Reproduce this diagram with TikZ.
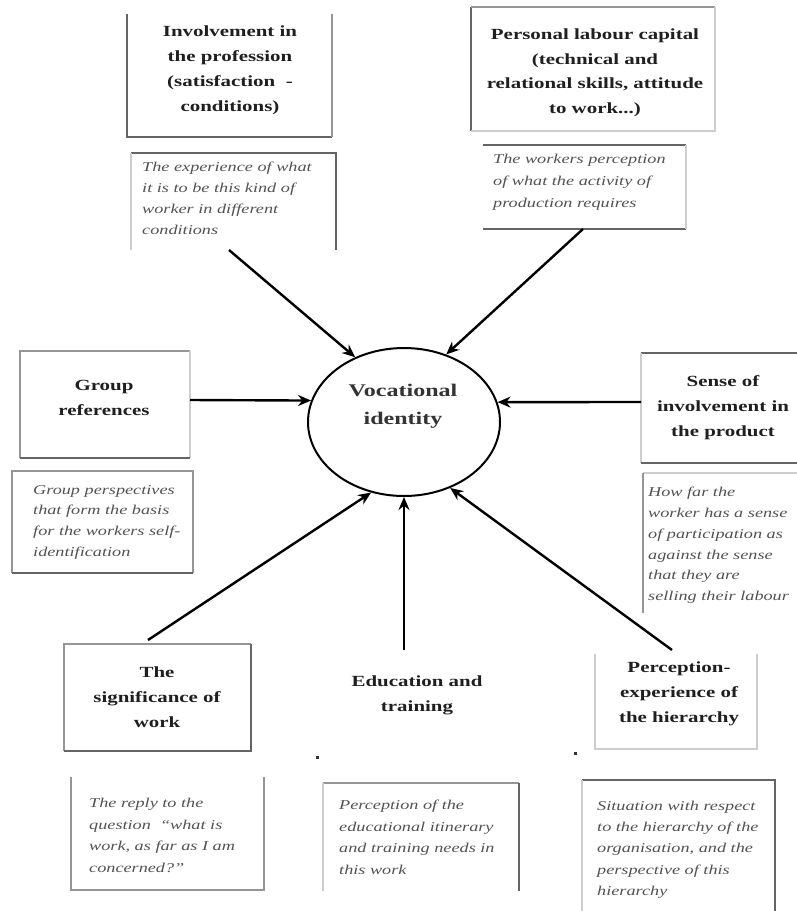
\documentclass[tikz,border=0pt]{standalone}
\usepackage{fontspec}
\setmainfont{Liberation Serif}[FakeStretch=1.35]
\usetikzlibrary{arrows.meta,shapes.geometric}
\definecolor{bdark}{RGB}{100,100,100}
\definecolor{bmid}{RGB}{150,150,150}
\definecolor{blight}{RGB}{205,205,205}
\begin{document}
\begin{tikzpicture}[x=1pt,y=-1pt,
  ttl/.style={font=\bfseries\fontsize{15.5}{25}\selectfont, align=center, text=black!88, inner sep=0pt},
  dsc/.style={font=\itshape\fontsize{13.5}{20.8}\selectfont, align=left, text=black!68, inner sep=0pt, anchor=north west},
  boxn/.style={rectangle, inner sep=0pt},
  bd/.style={draw=bdark, line width=1.6pt},
  bm/.style={draw=bmid, line width=1.6pt},
  bl/.style={draw=blight, line width=1.6pt},
  arr/.style={draw=black, line width=2.4pt, -{Stealth[length=13pt,width=11pt]}}
]
\useasboundingbox (0,0) rectangle (796,911);

% ---- box nodes (borders drawn per side) ----
\node[boxn, minimum width=205pt, minimum height=123pt] (b1) at (229.5,75.5) {};
\node[boxn, minimum width=205pt, minimum height=97pt]  (d1) at (233.5,201.5) {};
\node[boxn, minimum width=244pt, minimum height=124pt] (b2) at (593,69) {};
\node[boxn, minimum width=203pt, minimum height=84pt]  (d2) at (584.5,187) {};
\node[boxn, minimum width=170pt, minimum height=107pt] (bg) at (105,404.5) {};
\node[boxn, minimum width=181pt, minimum height=102pt] (dg) at (102.5,522) {};
\node[boxn, minimum width=160pt, minimum height=110pt] (bs) at (721,408) {};
\node[boxn, minimum width=160pt, minimum height=140pt] (ds) at (723,543) {};
\node[boxn, minimum width=187pt, minimum height=107pt] (bsig) at (157.5,697.5) {};
\node[boxn, minimum width=193pt, minimum height=113pt] (dsig) at (167.5,833.5) {};
\node[boxn, minimum width=196pt, minimum height=108pt] (de) at (421,837) {};
\node[boxn, minimum width=162pt, minimum height=95pt]  (bp) at (676,701.5) {};
\node[boxn, minimum width=193pt, minimum height=131pt] (dp) at (678.5,845.5) {};

% borders
\draw[bd] (b1.north west) -- (b1.south west) -- (b1.south east);
\draw[bm] (b1.south east) -- (b1.north east);
\draw[bd] (d1.north west) -- (d1.north east) -- (d1.south east);
\draw[bl] (d1.north west) -- (d1.south west);

\draw[bd] (b2.south west) -- (b2.north west);
\draw[bm] (b2.north west) -- (b2.north east);
\draw[bl] (b2.north east) -- (b2.south east) -- (b2.south west);
\draw[bd] (d2.north west) -- (d2.north east);
\draw[bd] (d2.south west) -- (d2.south east);
\draw[bl] (d2.north east) -- (d2.south east);

\draw[bm] (bg.south west) -- (bg.north west) -- (bg.north east);
\draw[bl] (bg.north east) -- (bg.south east);
\draw[bd] (bg.south west) -- (bg.south east);
\draw[bm] (dg.south west) -- (dg.north west) -- (dg.north east) -- (dg.south east);
\draw[bd] (dg.south west) -- (dg.south east);

\draw[bd] (bs.north west) -- (bs.north east);
\draw[bl] (bs.north west) -- (bs.south west);
\draw[bd] (bs.south west) -- (bs.south east);
\draw[bl] (ds.north west) -- (ds.north east);
\draw[bm] (ds.north west) -- (ds.south west);

\draw[bm] (bsig.south west) -- (bsig.north west) -- (bsig.north east);
\draw[bd] (bsig.north east) -- (bsig.south east) -- (bsig.south west);
\draw[bm] (dsig.north west) -- (dsig.south west) -- (dsig.south east) -- (dsig.north east);

\draw[bm] (de.north west) -- (de.north east);
\draw[bl] (de.north west) -- (de.south west);
\draw[bd] (de.north east) -- (de.south east);

\draw[bl] (bp.north west) -- (bp.south west) -- (bp.south east) -- (bp.north east);
\draw[bd] (dp.north west) -- (dp.north east) -- (dp.south east);
\draw[bl] (dp.north west) -- (dp.south west);

% ---- titles ----
\node[ttl] (t1) at (230,70) {Involvement in\\the profession\\(satisfaction~ -\\conditions)};
\node[ttl, font=\bfseries\fontsize{15.5}{24.5}\selectfont] (t2) at (595,73) {Personal labour capital\\(technical and\\relational skills, attitude\\to work...)};
\node[ttl] (tg) at (104,398) {Group\\references};
\node[ttl] (ts) at (723,408) {Sense of\\involvement in\\the product};
\node[ttl] (tsig) at (157,697) {The\\significance of\\work};
\node[ttl] (te) at (417,695) {Education and\\training};
\node[ttl] (tp) at (679,694) {Perception-\\experience of\\the hierarchy};

% ---- descriptions ----
\node[dsc] (x1) at (142,162) {The experience of what\\it is to be this kind of\\worker in different\\conditions};
\node[dsc, font=\itshape\fontsize{13.5}{21.8}\selectfont] (x2) at (493,154) {The workers perception\\of what the activity of\\production requires};
\node[dsc] (xg) at (33,485) {Group perspectives\\that form the basis\\for the workers self-\\identification};
\node[dsc] (xs) at (648,487) {How far the\\worker has a sense\\of participation as\\against the sense\\that they are\\selling their labour};
\node[dsc, font=\itshape\fontsize{13.5}{21.5}\selectfont] (xsig) at (89,798) {The reply to the\\question ~“what is\\work, as far as I am\\concerned?”};
\node[dsc, font=\itshape\fontsize{13.5}{21.5}\selectfont] (xe) at (339,800) {Perception of the\\educational itinerary\\and training needs in\\this work};
\node[dsc, font=\itshape\fontsize{13.5}{21.2}\selectfont] (xp) at (597,801) {Situation with respect\\to the hierarchy of the\\organisation, and the\\perspective of this\\hierarchy};

% ---- centre ----
\node[ellipse, draw=black, line width=2pt, minimum width=192pt, minimum height=148pt, inner sep=0pt] (V) at (404,422) {};
\node[ttl, font=\bfseries\fontsize{17.8}{28}\selectfont, text=black!80] (vt) at (403,406) {Vocational\\identity};

% ---- arrow start points ----
\coordinate (c1) at (229,250);
\coordinate (c2) at (583,229);
\coordinate (cg) at (190,400);
\coordinate (cs) at (641,402);
\coordinate (csig) at (148,640);
\coordinate (ce) at (404,650);
\coordinate (cp) at (672,650);

\draw[arr] (c1) -- (V.127);
\draw[arr] (c2) -- (V.58);
\draw[arr] (cg) -- (V.167);
\draw[arr] (cs) -- (V.12);
\draw[arr] (csig) -- (V.245);
\draw[arr] (ce) -- (V.270);
\draw[arr] (cp) -- (V.305);

% stray dots
\fill[black!80] (315.5,755.5) rectangle +(3,3);
\fill[black!80] (574,751.5) rectangle +(3,3);
\end{tikzpicture}
\end{document}
